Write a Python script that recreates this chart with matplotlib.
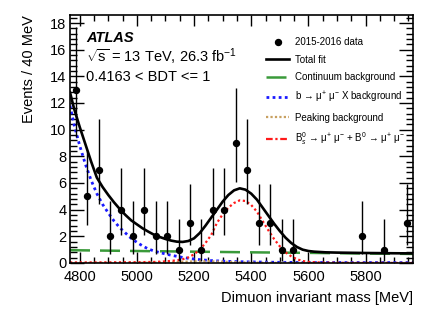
import numpy as np
import matplotlib
matplotlib.use("Agg")
import matplotlib.pyplot as plt
from matplotlib.ticker import MultipleLocator
from matplotlib.lines import Line2D

plt.rcParams['font.family'] = ['Liberation Sans', 'DejaVu Sans']
plt.rcParams['mathtext.fontset'] = 'custom'
plt.rcParams['mathtext.rm'] = 'Liberation Sans'
plt.rcParams['mathtext.it'] = 'Liberation Sans:italic'
plt.rcParams['mathtext.bf'] = 'Liberation Sans:bold'

# ---------------------------------------------------------------
# data: 30 bins of 40 MeV between 4766 and 5966 MeV
# ---------------------------------------------------------------
bin_centers = [4786 + 40 * i for i in range(30)]
counts = [13, 5, 7, 2, 4, 2, 4, 2, 2, 1, 3, 1, 4, 4, 9,
          7, 3, 3, 1, 1, 0, 0, 0, 0, 0, 2, 0, 1, 0, 3]
# asymmetric Poisson errors, lower / upper
err_lo = {1: 0.83, 2: 1.29, 3: 1.63, 4: 1.91, 5: 2.16, 7: 2.58, 9: 2.94, 13: 3.56}
err_hi = {1: 2.30, 2: 2.64, 3: 2.92, 4: 3.16, 5: 3.38, 7: 3.77, 9: 4.11, 13: 4.69}

# fit curves, sampled along the plot
total_x = [4766, 4780, 4800, 4820, 4840, 4860, 4880, 4900, 4920, 4940, 4960, 4980,
           5000, 5020, 5040, 5060, 5080, 5100, 5120, 5140, 5160, 5180, 5200, 5220,
           5240, 5260, 5280, 5300, 5320, 5340, 5360, 5380, 5400, 5420, 5440, 5460,
           5480, 5500, 5520, 5540, 5560, 5580, 5600, 5620, 5660, 5700, 5800, 5900, 5966]
total_y = [12.8, 11.6, 10.2, 8.9, 7.6, 6.4, 5.7, 5.1, 4.55, 4.05, 3.6, 3.2,
           2.9, 2.6, 2.35, 2.12, 1.95, 1.8, 1.68, 1.6, 1.58, 1.65, 1.85, 2.25,
           2.8, 3.4, 4.0, 4.6, 5.1, 5.45, 5.6, 5.5, 5.2, 4.75, 4.15, 3.55,
           2.95, 2.4, 1.9, 1.5, 1.2, 1.0, 0.9, 0.85, 0.8, 0.78, 0.75, 0.73, 0.72]

cont_x = [4766, 5000, 5200, 5400, 5600, 5800, 5966]
cont_y = [0.96, 0.9, 0.85, 0.8, 0.76, 0.71, 0.68]

bmumux_x = [4766, 4780, 4800, 4820, 4840, 4860, 4880, 4900, 4920, 4940, 4960, 4980,
            5000, 5020, 5040, 5060, 5080, 5100, 5120, 5140, 5160, 5180, 5200, 5220,
            5260, 5300, 5350, 5400, 5500, 5600, 5966]
bmumux_y = [11.8, 10.4, 8.8, 7.4, 6.2, 5.2, 4.4, 3.75, 3.15, 2.65, 2.25, 1.85,
            1.55, 1.28, 1.05, 0.9, 0.78, 0.68, 0.58, 0.5, 0.42, 0.35, 0.3, 0.25,
            0.18, 0.14, 0.1, 0.08, 0.05, 0.04, 0.03]

peak_x = [4766, 5000, 5100, 5150, 5200, 5250, 5300, 5350, 5400, 5500, 5966]
peak_y = [0.0, 0.01, 0.04, 0.08, 0.12, 0.13, 0.1, 0.06, 0.03, 0.01, 0.0]

sig_x = [4766, 4900, 5000, 5060, 5100, 5140, 5160, 5180, 5200, 5220, 5240, 5260,
         5280, 5300, 5320, 5340, 5360, 5380, 5400, 5420, 5440, 5460, 5480, 5500,
         5520, 5540, 5560, 5580, 5600, 5650, 5700, 5966]
sig_y = [0.04, 0.05, 0.06, 0.08, 0.12, 0.2, 0.28, 0.42, 0.65, 1.0, 1.5, 2.1,
         3.0, 3.65, 4.15, 4.5, 4.7, 4.65, 4.35, 3.85, 3.15, 2.45, 1.8, 1.25,
         0.8, 0.5, 0.28, 0.15, 0.08, 0.03, 0.01, 0.0]

labels = ["2015-2016 data", "Total fit", "Continuum background",
          "b \u2192 \u03bc$^{+}$ \u03bc$^{-}$ X background", "Peaking background",
          "B$_{s}^{0}$ \u2192 \u03bc$^{+}$ \u03bc$^{-}$ + B$^{0}$ \u2192 \u03bc$^{+}$ \u03bc$^{-}$"]

FS = 10.5

# ---------------------------------------------------------------
fig = plt.figure(figsize=(4.36, 3.14), dpi=100)
ax = fig.add_axes([70 / 436, 1 - 263 / 314, 343 / 436, 248 / 314])

c_green = '#3a9a3a'
c_blue = '#1a1aff'
c_peak = '#c8a060'
c_red = '#ff1a1a'

ax.plot(cont_x, cont_y, color=c_green, lw=1.8, dashes=(8, 4))
ax.plot(bmumux_x, bmumux_y, color=c_blue, lw=2.0, dashes=(1, 1.2))
ax.plot(peak_x, peak_y, color=c_peak, lw=1.6, dashes=(1, 1))
ax.plot(sig_x, sig_y, color=c_red, lw=1.6, dashes=(1, 1.2))
ax.plot(total_x, total_y, color='black', lw=1.9)

xs = np.array(bin_centers)
ns = np.array(counts)
m = ns > 0
lo = np.array([err_lo.get(n, 0) for n in counts])
hi = np.array([err_hi.get(n, 0) for n in counts])
ax.errorbar(xs[m], ns[m], yerr=[lo[m], hi[m]], fmt='o', color='black',
            ms=4.3, elinewidth=1.0, capsize=0)

ax.set_xlim(4766, 5966)
ax.set_ylim(0, 18.6)
ax.xaxis.set_major_locator(MultipleLocator(200))
ax.xaxis.set_minor_locator(MultipleLocator(50))
ax.yaxis.set_major_locator(MultipleLocator(2))
ax.yaxis.set_minor_locator(MultipleLocator(0.4))
ax.tick_params(which='both', direction='in', top=True, right=True, labelsize=FS)
ax.tick_params(axis='y', which='major', length=10, width=1, pad=2.5)
ax.tick_params(axis='y', which='minor', length=5, width=1)
ax.tick_params(axis='x', which='major', length=8, width=1, pad=5)
ax.tick_params(axis='x', which='minor', length=4, width=1)
for s in ax.spines.values():
    s.set_linewidth(1.2)

ax.set_xlabel("Dimuon invariant mass [MeV]", fontsize=FS, loc='right', labelpad=5)
ax.set_ylabel("Events / 40 MeV", fontsize=FS, loc='top', labelpad=10)

ax.text(86 / 436, 1 - 38 / 314, "ATLAS", transform=fig.transFigure, fontsize=FS,
        fontweight='bold', fontstyle='italic', va='center')
ax.text(86 / 436, 1 - 57 / 314, "$\\mathregular{\\sqrt{s}}$ = 13 TeV, 26.3 fb$^{-1}$",
        transform=fig.transFigure, fontsize=FS, va='center')
ax.text(86 / 436, 1 - 77 / 314, "0.4163 < BDT <= 1", transform=fig.transFigure,
        fontsize=FS, va='center')

handles = [
    Line2D([], [], marker='o', color='black', ls='none', ms=4.3),
    Line2D([], [], color='black', lw=1.9),
    Line2D([], [], color=c_green, lw=1.8, dashes=(8, 4)),
    Line2D([], [], color=c_blue, lw=2.0, dashes=(1, 1.2)),
    Line2D([], [], color=c_peak, lw=1.6, dashes=(1, 1)),
    Line2D([], [], color=c_red, lw=1.6, dashes=(3, 1.2, 1, 1.2)),
]
ax.legend(handles, labels, loc='upper left', bbox_to_anchor=(266 / 436, 1 - 37 / 314),
          bbox_transform=fig.transFigure, frameon=False, fontsize=7.0,
          handlelength=2.4, handletextpad=0.6, labelspacing=0.78,
          borderpad=0, borderaxespad=0)

fig.savefig("out.png", dpi=100)
